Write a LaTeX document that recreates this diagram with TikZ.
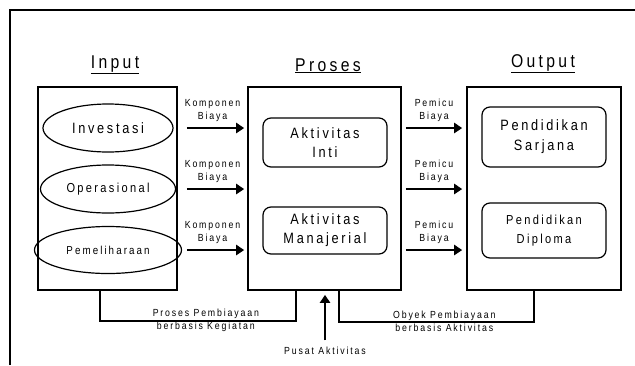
\documentclass[tikz,border=0pt]{standalone}
\usepackage{fontspec}
\setmainfont{Liberation Sans}[FakeStretch=0.85,LetterSpace=18]
\usetikzlibrary{positioning, calc, arrows.meta, shapes.geometric}

\begin{document}
\begin{tikzpicture}[x=1pt, y=-1pt,
	colbox/.style={draw, line width=1.6pt, minimum width=#1, minimum height=203pt, inner sep=0pt},
	item/.style={draw, ellipse, line width=1.2pt, inner sep=0pt},
	subbox/.style={draw, rounded corners=8pt, line width=1.2pt, minimum width=124pt, align=center, inner sep=0pt},
	title/.style={anchor=base, font=\fontsize{18.5}{22}\selectfont},
	flow/.style={line width=2.8pt, -{Triangle[length=8pt,width=10pt]}, shorten <=#1},
	link/.style={line width=1.6pt},
	small/.style={font=\fontsize{10.3}{13}\selectfont, align=center, inner sep=0pt}]
	\useasboundingbox (0,0) rectangle (635,365);

	% Slide frame, open on the right and at the bottom
	\draw[line width=2.8pt] (10,365) -- (10,10) -- (635,10);

	% Column titles
	\node[title] (intitle) at (115,68) {\underline{Input}};
	\node[title] (prtitle) at (328,71) {\underline{Proses}};
	\node[title] (outtitle) at (543,67) {\underline{Output}};

	% Column boxes
	\node[colbox=139pt] (inbox) at (107.5,188.5) {};
	\node[colbox=153pt] (prbox) at (324.5,188.5) {};
	\node[colbox=154pt] (outbox) at (544,188.5) {};

	% Input items
	\node[item, minimum width=130pt, minimum height=48pt, font=\fontsize{15}{18}\selectfont] (inv) at (108,128) {Investasi};
	\node[item, minimum width=135pt, minimum height=48pt, font=\fontsize{13}{16}\selectfont] (ops) at (108,189) {Operasional};
	\node[item, minimum width=147pt, minimum height=47pt, font=\fontsize{11.5}{14}\selectfont] (pem) at (108,250) {Pemeliharaan};

	% Activities
	\node[subbox, minimum height=49pt, font=\fontsize{15}{19}\selectfont] (inti) at (325,142.5) {Aktivitas\\Inti};
	\node[subbox, minimum height=47pt, font=\fontsize{15}{19}\selectfont] (mgr) at (325,230.5) {Aktivitas\\Manajerial};

	% Outputs
	\node[subbox, minimum height=60pt, font=\fontsize{15}{20}\selectfont] (sarjana) at (544,137) {Pendidikan\\Sarjana};
	\node[subbox, minimum height=55pt, font=\fontsize{13}{19}\selectfont] (diploma) at (544,230.5) {Pendidikan\\Diploma};

	% Cost components into the activities
	\foreach \src in {inv,ops,pem}{
		\draw[flow=9pt, shorten >=3pt] (inbox.east |- \src.center) -- (prbox.west |- \src.center)
			node[small, midway, above=5pt] {Komponen\\Biaya};
	}

	% Cost drivers into the outputs
	\foreach \src in {inv,ops,pem}{
		\draw[flow=4pt, shorten >=4pt] (prbox.east |- \src.center) -- (outbox.west |- \src.center)
			node[small, midway, above=5pt] {Pemicu\\Biaya};
	}

	% Bottom connectors
	\draw[link] ([xshift=-7.5pt]inbox.south) -- ++(0,30) -| ([xshift=-28.5pt]prbox.south)
		node[small, pos=0.27] {Proses Pembiayaan\\berbasis Kegiatan};
	\draw[link] ([xshift=14.5pt]prbox.south) -- ++(0,31) -| ([xshift=-10pt]outbox.south)
		node[small, pos=0.27] {Obyek Pembiayaan\\berbasis Aktivitas};

	% Activity centre
	\node[small, anchor=base] (pusat) at (325,354) {Pusat Aktivitas};
	\draw[flow=6pt, shorten >=4pt] (pusat.north) -- (prbox.south -| pusat.north);
\end{tikzpicture}
\end{document}
